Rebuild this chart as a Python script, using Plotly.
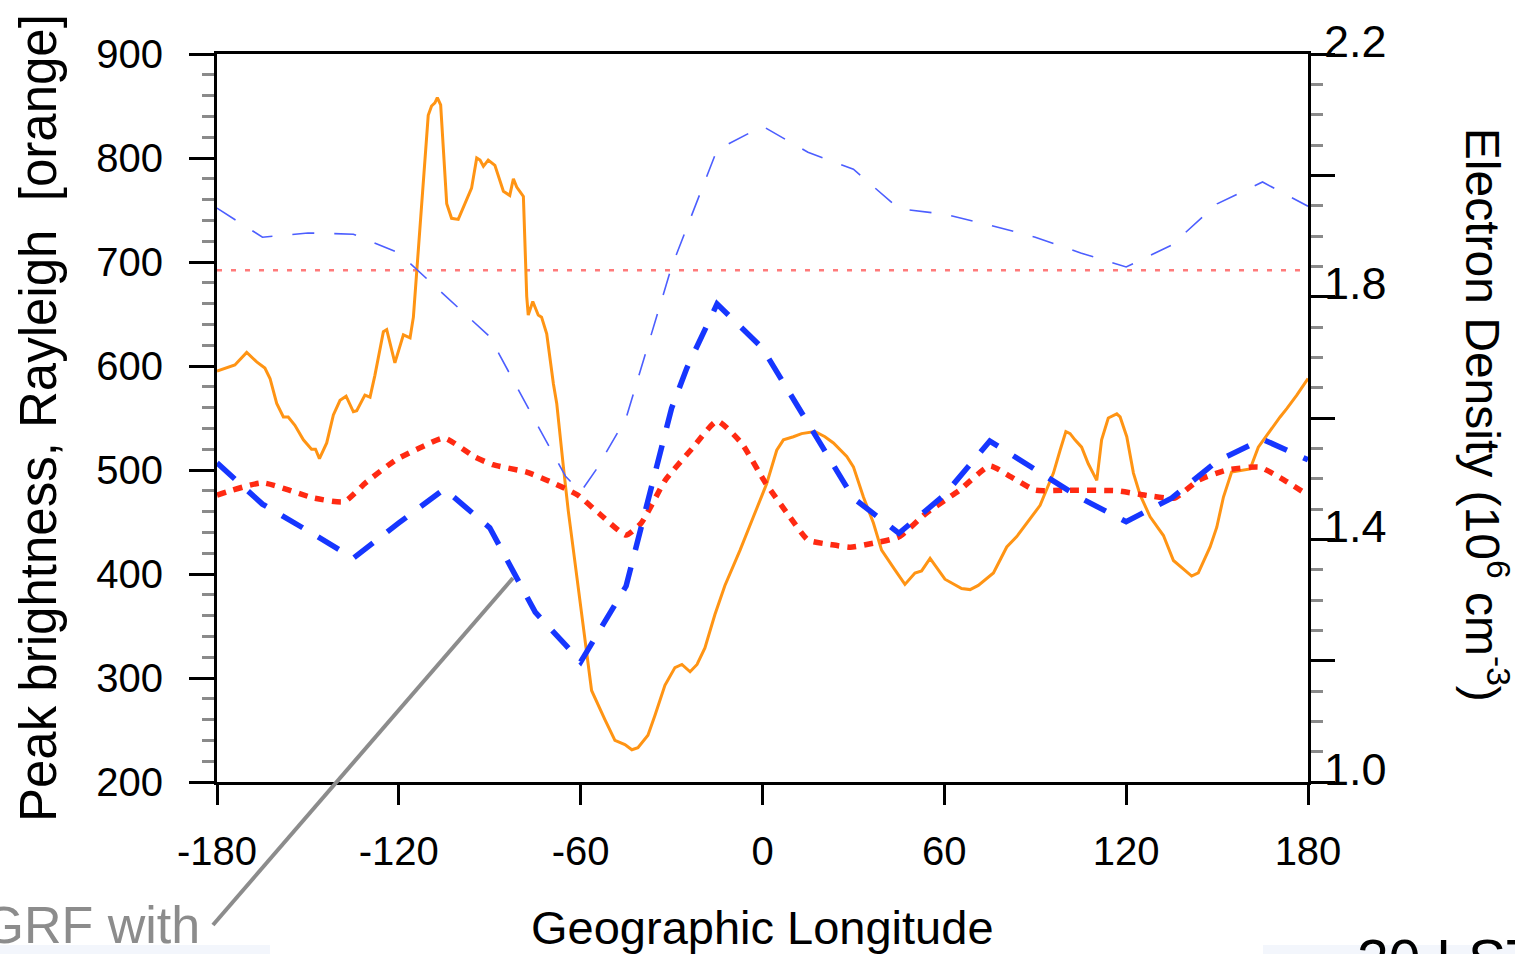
import plotly.graph_objects as go

# ---------------- data ----------------
lon_orange = [-180, -176.4, -174.1, -170.2, -166.9, -164.2, -162.5, -160.3, -158.1, -156.5,
              -154.3, -151.5, -148.8, -147.5, -146.2, -143.8, -141.6, -139.4, -137.4, -135.0,
              -133.9, -131.2, -129.5, -127.9, -125.1, -124.0, -121.3, -118.5, -116.3, -115.2,
              -114.1, -110.3, -109.2, -108.1, -107.3, -106.2, -104.2, -102.6, -100.4, -98.2,
              -96.0, -94.3, -93.2, -92.1, -90.5, -88.3, -85.5, -83.4, -82.2, -81.1,
              -78.9, -77.8, -77.3, -75.8, -74.0, -72.9, -71.2, -69.0, -67.9, -65.7,
              -64.1, -62.4, -58.6, -56.4, -52.0, -48.7, -45.4, -43.1, -41.1, -37.8,
              -35.5, -32.2, -28.9, -26.6, -23.9, -21.6, -19.0, -15.7, -12.4, -7.4,
              -3.0, 1.4, 4.7, 6.9, 10.2, 12.9, 17.3, 20.6, 23.4, 27.8,
              30.0, 33.3, 36.6, 39.3, 43.7, 47.0, 50.3, 52.5, 55.3, 60.2,
              65.7, 68.5, 71.2, 76.2, 80.6, 83.9, 91.6, 96.0, 98.2, 100.1,
              101.5, 103.1, 105.3, 107.5, 110.3, 111.9, 114.1, 116.9, 118.0, 120.2,
              122.4, 124.6, 127.9, 132.3, 135.6, 138.9, 141.6, 143.8, 147.7, 149.9,
              152.1, 154.8, 158.1, 160.9, 163.6, 167.5, 170.8, 173.0, 176.3, 180]
brightness_orange = [595, 599, 601, 613, 604, 598, 588, 564, 551, 551,
                     543, 529, 520, 520, 511, 526, 553, 567, 571, 556,
                     557, 572, 570, 591, 633, 635, 603, 630, 627, 647,
                     692, 841, 850, 853, 858, 851, 756, 742, 741, 756,
                     771, 800, 798, 792, 798, 793, 768, 764, 780, 772,
                     763, 667, 649, 662, 649, 647, 631, 583, 564, 503,
                     461, 423, 335, 288, 260, 240, 236, 231, 233, 245,
                     264, 293, 310, 313, 306, 313, 329, 361, 389, 423,
                     455, 487, 519, 529, 532, 535, 537, 532, 526, 513,
                     503, 474, 449, 423, 404, 390, 401, 403, 415, 395,
                     386, 385, 389, 401, 426, 436, 466, 497, 519, 537,
                     535, 529, 522, 506, 490, 529, 550, 554, 551, 532,
                     497, 476, 455, 437, 413, 405, 398, 401, 426, 445,
                     474, 498, 500, 501, 522, 538, 551, 559, 572, 588]

lon_ne_thin = [-180, -165, -150, -135, -120, -90, -75, -65, -60, -55, -45, -30, -15,
               0, 15, 30, 45, 60, 75, 90, 105, 120, 135, 150, 165, 180]
ne_thin = [1.946, 1.898, 1.905, 1.903, 1.872, 1.734, 1.595, 1.504, 1.478, 1.514, 1.600, 1.849, 2.042,
           2.081, 2.038, 2.010, 1.945, 1.936, 1.918, 1.898, 1.872, 1.849, 1.885, 1.953, 1.989, 1.949]

lon_ne_thick = [-180, -165, -150, -135, -120, -105, -90, -75, -65, -60, -45, -35, -30, -25, -15,
                0, 30, 45, 60, 75, 90, 105, 120, 135, 150, 165, 180]
ne_thick = [1.526, 1.458, 1.414, 1.369, 1.427, 1.483, 1.419, 1.280, 1.226, 1.198, 1.323, 1.521, 1.616, 1.682, 1.788,
            1.715, 1.468, 1.410, 1.473, 1.562, 1.516, 1.468, 1.429, 1.468, 1.529, 1.565, 1.531]

lon_red = [-180, -165, -148, -138, -131, -121, -113, -105, -95, -89, -78, -70, -61, -54, -45, -40,
           -32, -23, -15, -7, 1, 9, 15, 23, 29, 37, 45, 54, 65, 75, 82, 90, 100, 117, 126, 136,
           144, 153, 164, 172, 180]
ne_red = [1.473, 1.493, 1.468, 1.462, 1.493, 1.531, 1.551, 1.567, 1.536, 1.523, 1.511, 1.495, 1.473, 1.443, 1.407, 1.427,
          1.498, 1.551, 1.595, 1.559, 1.493, 1.437, 1.399, 1.391, 1.387, 1.394, 1.404, 1.443, 1.481, 1.521, 1.503, 1.481, 1.481, 1.480, 1.473, 1.468,
          1.498, 1.514, 1.519, 1.498, 1.473]

threshold_lon = [-180, 180]
threshold_val = [692, 692]

x_tick_vals = [-180, -120, -60, 0, 60, 120, 180]
x_tick_text = ["-180", "-120", "-60", "0", "60", "120", "180"]
right_label_vals = [1.0, 1.4, 1.8, 2.2]
right_label_text = ["1.0", "1.4", "1.8", "2.2"]

FONT = "Liberation Sans, Arial, Helvetica, sans-serif"

fig = go.Figure()

fig.add_trace(go.Scatter(x=threshold_lon, y=threshold_val, mode="lines",
                         line=dict(color="#FF7A7A", width=2.4, dash="5px,9px"),
                         yaxis="y", showlegend=False, hoverinfo="skip"))
fig.add_trace(go.Scatter(x=lon_orange, y=brightness_orange, mode="lines",
                         line=dict(color="#FF9414", width=3),
                         yaxis="y", showlegend=False))
fig.add_trace(go.Scatter(x=lon_ne_thin, y=ne_thin, mode="lines",
                         line=dict(color="#4C5EFF", width=1.6, dash="22px,20px"),
                         yaxis="y2", showlegend=False))
fig.add_trace(go.Scatter(x=lon_red, y=ne_red, mode="lines",
                         line=dict(color="#FF2A12", width=5.5, dash="9px,8px", shape="spline", smoothing=0.5),
                         yaxis="y2", showlegend=False))
fig.add_trace(go.Scatter(x=lon_ne_thick, y=ne_thick, mode="lines",
                         line=dict(color="#1636FF", width=5.5, dash="24px,18px"),
                         yaxis="y2", showlegend=False))

fig.update_layout(
    width=1515, height=954, autosize=False,
    margin=dict(l=217, r=207, t=54, b=172, pad=0),
    paper_bgcolor="white", plot_bgcolor="white",
    font=dict(family=FONT, color="black", size=40),
    xaxis=dict(range=[-180, 180], tickmode="array", tickvals=x_tick_vals, ticktext=x_tick_text,
               showgrid=False, zeroline=False, showline=True, linecolor="black", linewidth=3,
               mirror=True, ticks="outside", ticklen=20, tickwidth=3, tickcolor="black",
               tickfont=dict(size=40, family=FONT), ticklabelstandoff=12),
    yaxis=dict(range=[200, 900], tickmode="linear", tick0=200, dtick=100,
               showgrid=False, zeroline=False, showline=True, linecolor="black", linewidth=3,
               ticks="outside", ticklen=25, tickwidth=3, tickcolor="black",
               tickfont=dict(size=40, family=FONT), ticklabelstandoff=18,
               minor=dict(ticks="outside", ticklen=12, tickwidth=3, tickcolor="#8a8a8a",
                          tickmode="linear", tick0=200, dtick=20, showgrid=False)),
    yaxis2=dict(range=[1.0, 2.2], overlaying="y", side="right", tickmode="linear", tick0=1.0, dtick=0.2,
                showgrid=False, zeroline=False, showline=True, linecolor="black", linewidth=3,
                ticks="outside", ticklen=24, tickwidth=3, tickcolor="black", showticklabels=False,
                minor=dict(ticks="outside", ticklen=12, tickwidth=3, tickcolor="#8a8a8a",
                           tickmode="linear", tick0=1.0, dtick=0.05, showgrid=False)),
)

annotations = []
for v, t in zip(right_label_vals, right_label_text):
    annotations.append(dict(x=1.0, xref="paper", y=v, yref="y2", text=t, showarrow=False,
                            xanchor="left", yanchor="middle", xshift=14, yshift=13,
                            font=dict(size=45, family=FONT, color="black")))
annotations += [
    dict(x=0.5, xref="paper", y=-0.2005, yref="paper", text="Geographic Longitude", showarrow=False,
         xanchor="center", yanchor="middle", font=dict(size=47, family=FONT, color="black")),
    dict(x=-0.164, xref="paper", y=0.5, yref="paper", text="Peak brightness, Rayleigh  [orange]",
         showarrow=False, textangle=-90, xanchor="center", yanchor="middle",
         font=dict(size=51, family=FONT, color="black")),
    dict(x=1.164, xref="paper", y=0.5045, yref="paper",
         text="Electron Density (10<sup>6</sup> cm<sup>-3</sup>)",
         showarrow=False, textangle=90, xanchor="center", yanchor="middle",
         font=dict(size=48, family=FONT, color="black")),
    dict(x=-0.0138, xref="paper", y=-0.1964, yref="paper", text="IGRF with", showarrow=False,
         xanchor="right", yanchor="middle", font=dict(size=52, family=FONT, color="#8c8c8c")),
    dict(x=1.0431, xref="paper", y=-0.198, yref="paper", text="20 LST", showarrow=False,
         xanchor="left", yanchor="top", font=dict(size=57, family=FONT, color="black")),
]
fig.update_layout(annotations=annotations)

fig.update_layout(shapes=[
    dict(type="line", xref="paper", yref="paper", x0=-0.0037, y0=-0.1964, x1=0.2713, y1=0.2802,
         line=dict(color="#8c8c8c", width=4)),
    dict(type="rect", xref="paper", yref="paper", x0=-0.199, y0=-0.2239, x1=0.0486, y1=-0.24,
         line=dict(width=0), fillcolor="#F3F6FC", layer="below"),
    dict(type="rect", xref="paper", yref="paper", x0=0.9587, y0=-0.2239, x1=1.2, y1=-0.24,
         line=dict(width=0), fillcolor="#F3F6FC", layer="below"),
])

fig.write_html("out.html", config={"displayModeBar": False},
               post_script="document.body.style.margin='0';document.body.style.padding='0';")
